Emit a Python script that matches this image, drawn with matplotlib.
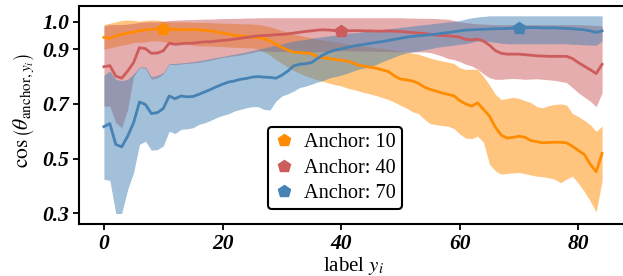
import numpy as np
import matplotlib
matplotlib.use("Agg")
import matplotlib.pyplot as plt

labels = list(range(85))
anchors = [10, 40, 70]
series_names = ["Anchor: 10", "Anchor: 40", "Anchor: 70"]

orange_mean = [.943,.940,.949,.955,.959,.963,.967,.971,.973,.974,.973,.972,.972,.971,.971,.972,.971,.969,.967,.963,
               .959,.955,.951,.948,.946,.944,.943,.938,.930,.918,.906,.897,.889,.888,.886,.884,.872,.869,.866,.862,
               .860,.857,.850,.841,.838,.834,.830,.824,.818,.802,.791,.788,.784,.776,.762,.753,.747,.740,.735,.730,
               .712,.700,.692,.704,.680,.656,.615,.586,.575,.578,.582,.578,.566,.562,.558,.559,.560,.560,.558,.545,
               .530,.515,.480,.452,.519]
orange_upper = [.990,.995,1.0,1.005,1.007,1.005,1.003,1.005,1.007,1.006,1.003,1.0,1.0,1.0,1.0,.998,.998,.998,.997,.996,
                .995,.995,.994,.993,.993,.992,.990,.987,.982,.975,.968,.962,.955,.950,.946,.942,.937,.933,.930,.927,
                .924,.920,.916,.913,.911,.908,.905,.903,.900,.897,.894,.890,.886,.882,.875,.868,.862,.857,.853,.848,
                .832,.826,.827,.826,.800,.770,.735,.716,.720,.724,.720,.712,.705,.690,.686,.694,.698,.700,.696,.665,
                .654,.640,.624,.600,.619]
orange_lower = [.900,.905,.910,.915,.918,.925,.925,.927,.930,.930,.928,.925,.922,.920,.918,.915,.912,.912,.912,.910,
                .910,.908,.907,.906,.905,.905,.900,.890,.878,.862,.848,.835,.822,.812,.803,.795,.788,.782,.776,.770,
                .766,.758,.753,.747,.741,.736,.730,.723,.716,.706,.695,.685,.672,.665,.645,.628,.624,.621,.619,.610,
                .590,.575,.573,.582,.560,.480,.455,.443,.446,.448,.449,.445,.440,.436,.434,.430,.425,.412,.425,.436,
                .410,.380,.345,.305,.420]

red_mean = [.836,.840,.802,.794,.820,.851,.906,.902,.885,.886,.894,.922,.918,.920,.922,.922,.925,.927,.927,.930,
            .932,.934,.937,.940,.943,.946,.949,.950,.951,.953,.954,.956,.959,.962,.965,.967,.970,.971,.970,.968,
            .967,.967,.968,.968,.967,.967,.966,.966,.967,.966,.965,.963,.961,.959,.958,.955,.951,.950,.949,.947,
            .944,.936,.934,.937,.930,.915,.895,.885,.882,.882,.882,.880,.878,.876,.875,.874,.874,.874,.874,.866,
            .851,.838,.825,.811,.845]
red_upper = [.985,.990,.990,.990,.992,.995,.998,1.0,1.0,1.0,1.002,1.005,1.006,1.007,1.008,1.008,1.009,1.010,1.010,1.011,
             1.012,1.012,1.013,1.013,1.014,1.014,1.015,1.015,1.015,1.015,1.015,1.015,1.015,1.015,1.015,1.015,1.015,1.015,1.015,1.015,
             1.015,1.015,1.015,1.015,1.015,1.015,1.015,1.015,1.015,1.015,1.015,1.014,1.014,1.013,1.013,1.013,1.012,1.011,1.010,1.005,
             1.0,.997,.995,.993,.992,.991,.990,.990,.990,.990,.990,.990,.990,.990,.990,.990,.990,.990,.990,.990,
             .990,.989,.988,.987,.985]
red_lower = [.692,.692,.631,.613,.680,.800,.833,.830,.790,.795,.810,.845,.843,.846,.848,.850,.852,.856,.860,.865,
             .870,.873,.876,.879,.883,.888,.893,.894,.893,.892,.892,.892,.891,.891,.890,.890,.891,.892,.893,.894,
             .895,.895,.894,.894,.893,.893,.892,.892,.892,.891,.891,.891,.890,.890,.890,.888,.882,.875,.866,.862,
             .855,.845,.839,.827,.810,.796,.790,.790,.792,.793,.792,.790,.791,.792,.790,.788,.786,.782,.778,.760,
             .741,.725,.710,.690,.741]

blue_mean = [.617,.628,.552,.543,.582,.631,.707,.698,.665,.668,.683,.729,.719,.729,.726,.727,.735,.744,.753,.763,
             .772,.780,.784,.790,.793,.798,.800,.798,.797,.794,.805,.820,.839,.845,.847,.851,.866,.880,.890,.897,
             .901,.906,.911,.915,.918,.922,.925,.928,.932,.936,.940,.944,.947,.949,.951,.953,.955,.958,.961,.964,
             .967,.970,.971,.972,.973,.974,.975,.975,.976,.977,.979,.979,.979,.979,.978,.978,.978,.977,.976,.975,
             .973,.971,.967,.961,.967]
blue_upper = [.805,.820,.790,.785,.790,.810,.835,.835,.800,.805,.815,.848,.848,.850,.852,.855,.858,.862,.866,.870,
              .874,.878,.882,.886,.890,.895,.900,.905,.910,.915,.920,.925,.930,.933,.936,.940,.943,.946,.949,.952,
              .955,.958,.960,.962,.965,.967,.970,.973,.975,.977,.980,.982,.985,.988,.990,.992,.995,.997,1.0,1.002,
              1.005,1.010,1.015,1.018,1.020,1.022,1.022,1.022,1.022,1.022,1.022,1.022,1.022,1.022,1.022,1.022,1.022,1.022,1.022,1.022,
              1.022,1.022,1.022,1.022,1.022]
blue_lower = [.424,.421,.299,.300,.387,.449,.552,.564,.531,.533,.546,.600,.592,.607,.609,.613,.625,.631,.640,.650,
              .658,.664,.674,.680,.686,.690,.690,.680,.678,.710,.729,.737,.747,.760,.765,.772,.780,.786,.795,.800,
              .805,.812,.820,.827,.832,.837,.845,.855,.863,.872,.880,.886,.890,.894,.898,.902,.906,.910,.912,.915,
              .918,.920,.925,.930,.930,.928,.925,.922,.920,.920,.920,.920,.920,.920,.920,.920,.920,.920,.920,.918,
              .918,.916,.915,.915,.930]

yticks = [0.3, 0.5, 0.7, 0.9, 1.0]
xticks = [0, 20, 40, 60, 80]

plt.rcParams['mathtext.fontset'] = 'stix'
plt.rcParams['font.family'] = ['Liberation Serif', 'DejaVu Serif']

W, H = 623, 276
fig = plt.figure(figsize=(W / 100, H / 100), dpi=100)
ax = fig.add_axes([79 / W, (H - 224.3) / H, (627 - 79) / W, (224.3 - 6) / H])

colors = ['darkorange', 'indianred', 'steelblue']
means = [orange_mean, red_mean, blue_mean]
uppers = [orange_upper, red_upper, blue_upper]
lowers = [orange_lower, red_lower, blue_lower]
x = np.array(labels)

for m, u, l, c in zip(means, uppers, lowers, colors):
    ax.fill_between(x, l, u, color=c, alpha=0.5, linewidth=0)
for m, c, a, name in zip(means, colors, anchors, series_names):
    ax.plot(x, m, color=c, lw=2)
    ax.plot([a], [m[a]], marker='p', color=c, markersize=9, linestyle='none', label=name)

ax.set_xlim(-4.2, 88.2)
ax.set_ylim(0.26, 1.058)
ax.set_xticks(xticks)
ax.set_yticks(yticks)
ax.set_xticklabels([str(t) for t in xticks], fontsize=15.5, fontweight='bold', fontstyle='italic')
ax.set_yticklabels([f"{t:.1f}" for t in yticks], fontsize=15.5, fontweight='bold', fontstyle='italic')
ax.tick_params(direction='out', length=4, width=1.3, pad=3)
for s in ax.spines.values():
    s.set_linewidth(1.5)

ax.set_xlabel(r'label $y_i$', fontsize=15, labelpad=1)
ax.set_ylabel(r'$\cos\left(\theta_{\mathrm{anchor},y_i}\right)$', fontsize=15.5)
ax.yaxis.set_label_coords(-0.077, 0.52)

leg = ax.legend(loc='lower left', bbox_to_anchor=(0.344, 0.07), borderaxespad=0,
                fontsize=14.6, frameon=True, fancybox=True, handletextpad=0.5,
                handlelength=1.0, labelspacing=0.3, borderpad=0.3)
leg.get_frame().set_edgecolor('black')
leg.get_frame().set_linewidth(1.5)
leg.get_frame().set_alpha(1)

fig.savefig('out.png', dpi=100)
